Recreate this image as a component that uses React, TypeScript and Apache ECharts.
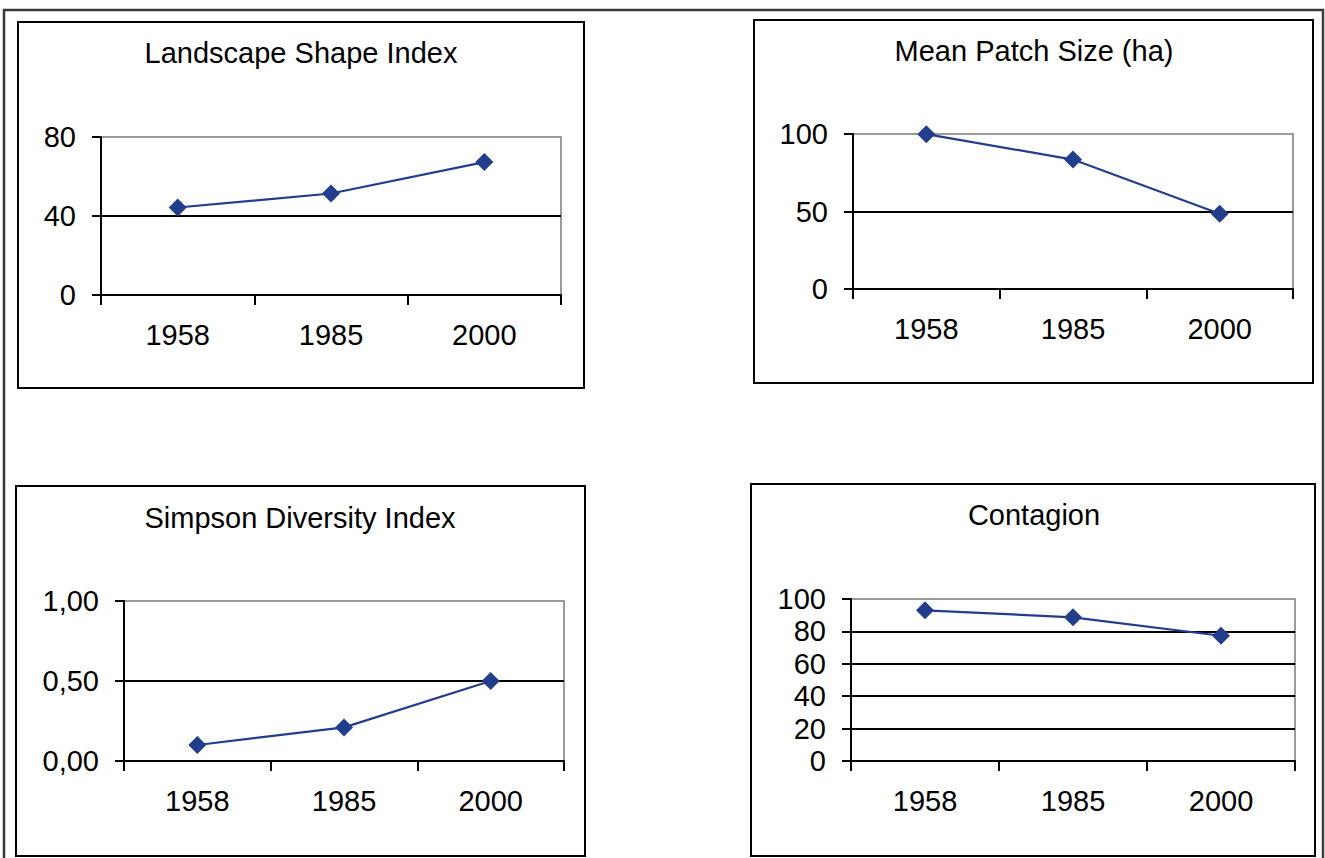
import React, { useEffect, useRef } from "react";
import * as echarts from "echarts";

const years = ["1958", "1985", "2000"];

const lsiTitle = "Landscape Shape Index";
const lsiValues = [44.3, 51.4, 67.3];

const mpsTitle = "Mean Patch Size (ha)";
const mpsValues = [99.9, 83.5, 48.6];

const sdiTitle = "Simpson Diversity Index";
const sdiValues = [0.1, 0.21, 0.5];

const contTitle = "Contagion";
const contValues = [93.0, 88.7, 77.3];

const FONT = '"Liberation Sans", Arial, Helvetica, sans-serif';
const NAVY = "#233D8D";

export default function App() {
  const ref = useRef<HTMLDivElement>(null);

  useEffect(() => {
    document.body.style.margin = "0";
    const chart = echarts.init(ref.current!, null, { renderer: "svg" });

    const grids = [
      { left: 101, top: 137, width: 460, height: 158 },
      { left: 853, top: 134, width: 440, height: 155 },
      { left: 124, top: 601, width: 440, height: 160 },
      { left: 851, top: 599, width: 444, height: 162 },
    ];
    const yRanges = [
      { min: 0, max: 80, interval: 40, fmt: (v: number) => String(v) },
      { min: 0, max: 100, interval: 50, fmt: (v: number) => String(v) },
      { min: 0, max: 1, interval: 0.5, fmt: (v: number) => v.toFixed(2).replace(".", ",") },
      { min: 0, max: 100, interval: 20, fmt: (v: number) => String(v) },
    ];
    const seriesData = [lsiValues, mpsValues, sdiValues, contValues];
    const titles = [
      { text: lsiTitle, x: 301, y: 53 },
      { text: mpsTitle, x: 1034, y: 51 },
      { text: sdiTitle, x: 300, y: 518 },
      { text: contTitle, x: 1034, y: 515 },
    ];
    const boxes = [
      { x: 18, y: 22, w: 566, h: 366 },
      { x: 754, y: 20, w: 559, h: 363 },
      { x: 16, y: 486, w: 569, h: 370 },
      { x: 751, y: 484, w: 564, h: 372 },
    ];

    const option: any = {
      animation: false,
      backgroundColor: "#ffffff",
      textStyle: { fontFamily: FONT },
      grid: grids.map((g) => ({
        ...g,
        show: true,
        borderColor: "#9a9a9a",
        borderWidth: 2,
        backgroundColor: "transparent",
        containLabel: false,
      })),
      xAxis: grids.map((_, i) => ({
        type: "category",
        gridIndex: i,
        data: years,
        boundaryGap: true,
        axisLine: { show: true, lineStyle: { color: "#000", width: 2 } },
        axisTick: { show: true, length: 10, lineStyle: { color: "#000", width: 2 } },
        axisLabel: { color: "#000", fontSize: 29, margin: 25, fontFamily: FONT },
        splitLine: { show: false },
      })),
      yAxis: yRanges.map((r, i) => ({
        type: "value",
        gridIndex: i,
        min: r.min,
        max: r.max,
        interval: r.interval,
        axisLine: { show: true, lineStyle: { color: "#000", width: 2 } },
        axisTick: { show: true, length: 9, lineStyle: { color: "#000", width: 2 } },
        axisLabel: {
          color: "#000",
          fontSize: 29,
          margin: 25,
          fontFamily: FONT,
          formatter: r.fmt,
        },
        splitLine: {
          show: true,
          showMinLine: false,
          showMaxLine: false,
          lineStyle: { color: "#000", width: 2 },
        },
      })),
      series: seriesData.map((d, i) => ({
        type: "line",
        xAxisIndex: i,
        yAxisIndex: i,
        data: d,
        symbol: "diamond",
        symbolSize: [18, 18],
        showAllSymbol: true,
        lineStyle: { color: NAVY, width: 2.2 },
        itemStyle: { color: NAVY },
        z: 5,
      })),
      graphic: [
        {
          type: "rect",
          shape: { x: 4, y: 10, width: 1319, height: 860 },
          style: { fill: "none", stroke: "#3a3a3a", lineWidth: 2.5 },
          silent: true,
        },
        ...boxes.map((b) => ({
          type: "rect",
          shape: { x: b.x, y: b.y, width: b.w, height: b.h },
          style: { fill: "none", stroke: "#000", lineWidth: 2 },
          silent: true,
        })),
        ...titles.map((t) => ({
          type: "text",
          x: t.x,
          y: t.y,
          style: {
            text: t.text,
            fontSize: 29,
            fontFamily: FONT,
            fill: "#000",
            align: "center",
            verticalAlign: "middle",
          },
          silent: true,
        })),
      ],
    };

    chart.setOption(option);
    return () => chart.dispose();
  }, []);

  return (
    <div
      ref={ref}
      style={{ position: "absolute", left: 0, top: 0, width: 1325, height: 858 }}
    />
  );
}
